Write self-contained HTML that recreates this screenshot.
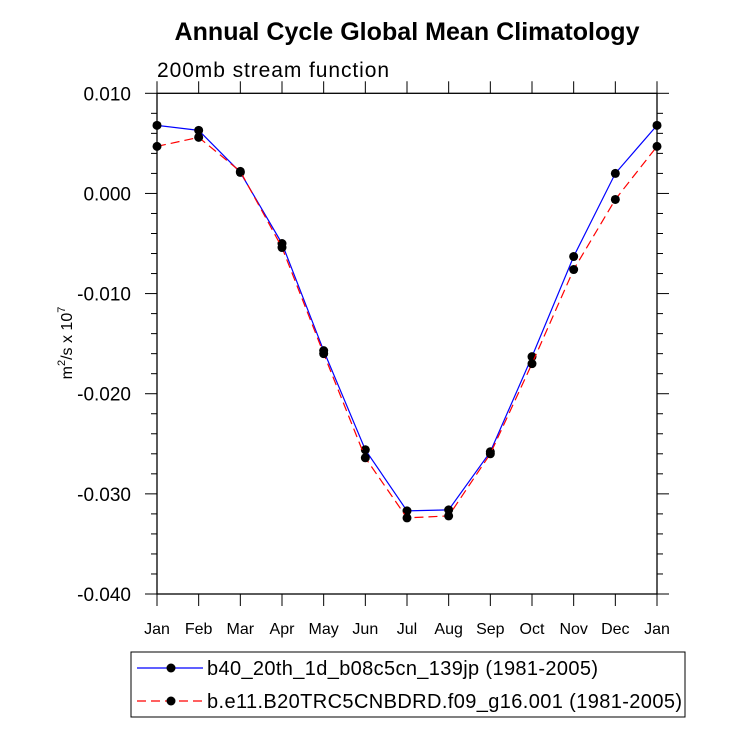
<!DOCTYPE html>
<html><head><meta charset="utf-8"><style>
body{margin:0;background:#fff;width:733px;height:740px;overflow:hidden}
text{font-family:"Liberation Sans",sans-serif}
</style></head><body>
<svg id="chart" width="733" height="740">
<text x="407" y="40" text-anchor="middle" font-size="25" font-weight="bold" textLength="465">Annual Cycle Global Mean Climatology</text>
<text x="157" y="77" font-size="21" textLength="232">200mb stream function</text>
<text transform="translate(72,343) rotate(-90)" text-anchor="middle" font-size="16">m<tspan dy="-7" font-size="11">2</tspan><tspan dy="7">/s x 10</tspan><tspan dy="-7" font-size="11">7</tspan></text>
<g id="axes"></g>
<g id="series"></g>
<g>
<rect x="131" y="652" width="554" height="65" fill="none" stroke="#000" stroke-width="1"/>
<line x1="137" y1="668" x2="203" y2="668" stroke="#00f" stroke-width="1.2"/>
<circle cx="171" cy="668" r="4.5" fill="#000"/>
<text x="207" y="675" font-size="20" textLength="391">b40_20th_1d_b08c5cn_139jp (1981-2005)</text>
<line x1="137" y1="701" x2="203" y2="701" stroke="#f00" stroke-width="1.2" stroke-dasharray="9,5"/>
<circle cx="171" cy="701" r="4.5" fill="#000"/>
<text x="207" y="708" font-size="20" textLength="475">b.e11.B20TRC5CNBDRD.f09_g16.001 (1981-2005)</text>
</g>
</svg>
<script>
const months=["Jan","Feb","Mar","Apr","May","Jun","Jul","Aug","Sep","Oct","Nov","Dec","Jan"];
const seriesB40=[0.0068,0.0063,0.0021,-0.0050,-0.0157,-0.0256,-0.0317,-0.0316,-0.0258,-0.0163,-0.0063,0.0020,0.0068];
const seriesBE11=[0.0047,0.0056,0.0022,-0.0054,-0.0160,-0.0264,-0.0324,-0.0322,-0.0260,-0.0170,-0.0076,-0.0006,0.0047];
const yTicks=[0.010,0.000,-0.010,-0.020,-0.030,-0.040];
const yTickLabels=["0.010","0.000","-0.010","-0.020","-0.030","-0.040"];
const L=157,R=657,T=93.3,B=594;
const xs=i=>L+i*(R-L)/12;
const ys=v=>T+(0.010-v)/0.050*(B-T);
const NS="http://www.w3.org/2000/svg";
function mk(tag,attrs,parent){const e=document.createElementNS(NS,tag);for(const k in attrs)e.setAttribute(k,attrs[k]);parent.appendChild(e);return e;}
const ax=document.getElementById('axes');
const frame=mk('rect',{x:L,y:T,width:R-L,height:B-T,fill:'none',stroke:'#000','stroke-width':1.3},ax);


for(let k=0;k<=25;k++){const v=0.010-k*0.002;const y=ys(v);const major=k%5==0;const len=major?12:6;
 mk('line',{x1:L-len,y1:y,x2:L,y2:y,stroke:'#000'},ax);mk('line',{x1:R,y1:y,x2:R+len,y2:y,stroke:'#000'},ax);}
yTicks.forEach((v,i)=>{const t=mk('text',{x:L-26,y:ys(v)+7,'text-anchor':'end','font-size':19},ax);t.textContent=yTickLabels[i];

});
months.forEach((m,i)=>{const x=xs(i);mk('line',{x1:x,y1:B,x2:x,y2:B+12,stroke:'#000'},ax);mk('line',{x1:x,y1:T-12,x2:x,y2:T,stroke:'#000'},ax);
const t=mk('text',{x:x,y:B+40,'text-anchor':'middle','font-size':16},ax);t.textContent=m;

});
const sg=document.getElementById('series');
function draw(data,color,dash,name){const g=mk('g',{},sg);


mk('polyline',{points:data.map((v,i)=>xs(i)+','+ys(v)).join(' '),fill:'none',stroke:color,'stroke-width':1.2,'stroke-dasharray':dash},g);
data.forEach((v,i)=>{const c=mk('circle',{cx:xs(i),cy:ys(v),r:4.5,fill:'#000'},g);

});}
draw(seriesB40,'#00f','none','series-b40');
draw(seriesBE11,'#f00','9,5','series-be11');
</script>
</body></html>
